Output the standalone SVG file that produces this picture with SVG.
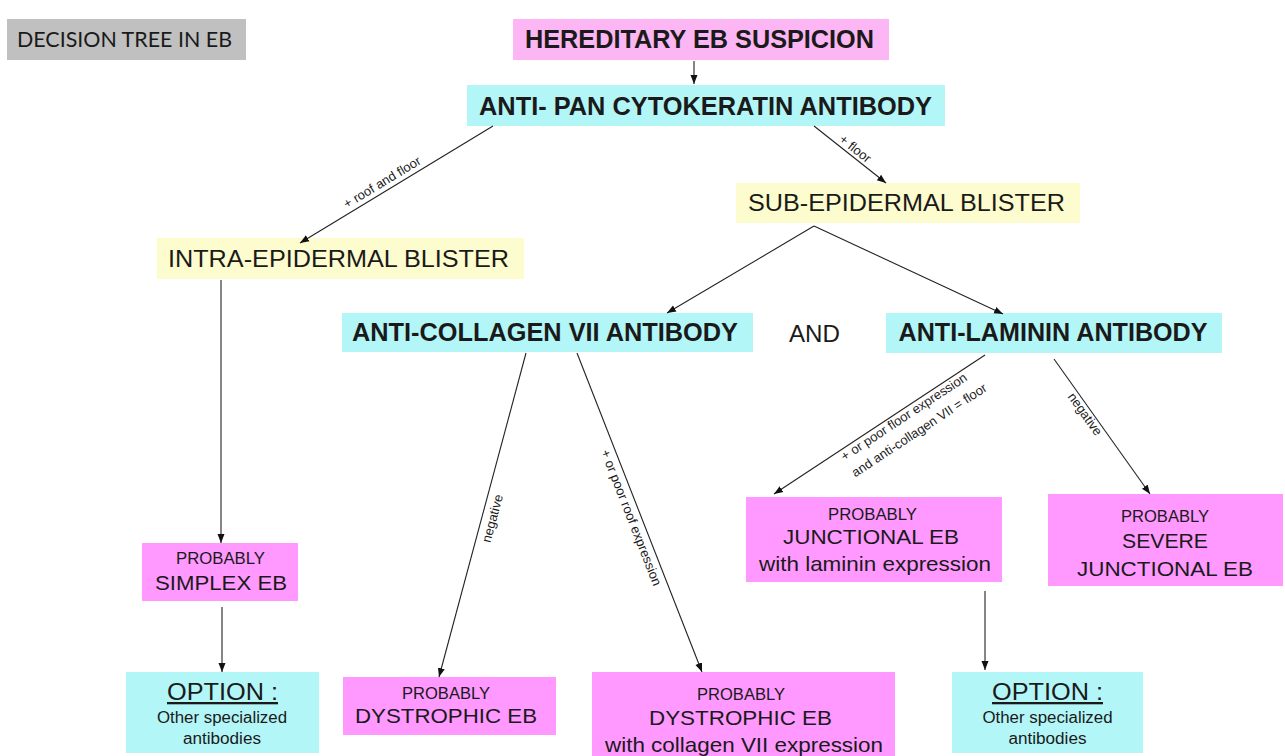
<svg xmlns="http://www.w3.org/2000/svg" width="1285" height="756" viewBox="0 0 1285 756">
<style>
  text { font-family: "Liberation Sans", Arial, sans-serif; fill: #1a1a1a; }
  .ttl { font-family: Lato, "Open Sans", sans-serif; font-size: 21px; }
  .b { font-weight: bold; font-size: 25px; }
  .m { font-size: 24px; }
  .p { font-size: 16px; }
  .r { font-size: 21px; }
  .o { font-size: 23px; text-decoration: underline; }
  .s { font-size: 16px; }
  .lab { font-size: 13px; }
  .grey { fill: #c0c0c0; }
  .pink { fill: #ff99ff; }
  .pinkl { fill: #fdb6f4; }
  .cyan { fill: #b3f6f8; }
  .yel { fill: #fdfcce; }
  .c line { stroke: #222; stroke-width: 1.1; marker-end: url(#ah); }
</style>
<defs>
  <marker id="ah" markerUnits="userSpaceOnUse" markerWidth="9" markerHeight="8" refX="9" refY="4" orient="auto">
    <path d="M0,0.5 L9,4 L0,7.5 z" fill="#111"/>
  </marker>
</defs>
<rect width="1285" height="756" fill="#fff"/>

<g id="title">
  <rect class="grey" x="7" y="19" width="239" height="41"/>
  <text class="ttl" x="17" y="47" textLength="215" lengthAdjust="spacingAndGlyphs">DECISION TREE IN EB</text>
</g>

<g id="hereditary">
  <rect class="pinkl" x="513" y="19" width="376" height="41"/>
  <text class="b" x="699.5" y="48" text-anchor="middle" textLength="349" lengthAdjust="spacingAndGlyphs">HEREDITARY EB SUSPICION</text>
</g>

<g id="antipan">
  <rect class="cyan" x="467" y="85" width="478" height="41"/>
  <text class="b" x="705.5" y="115" text-anchor="middle" textLength="453" lengthAdjust="spacingAndGlyphs">ANTI- PAN CYTOKERATIN ANTIBODY</text>
</g>

<g id="intra">
  <rect class="yel" x="157" y="238" width="367" height="41"/>
  <text class="m" x="338.5" y="267" text-anchor="middle" textLength="341" lengthAdjust="spacingAndGlyphs">INTRA-EPIDERMAL  BLISTER</text>
</g>

<g id="sub">
  <rect class="yel" x="736" y="183" width="344" height="40"/>
  <text class="m" x="906.5" y="211" text-anchor="middle" textLength="317" lengthAdjust="spacingAndGlyphs">SUB-EPIDERMAL  BLISTER</text>
</g>

<g id="collagen">
  <rect class="cyan" x="342" y="313" width="411" height="39"/>
  <text class="b" x="545" y="341" text-anchor="middle" textLength="386" lengthAdjust="spacingAndGlyphs">ANTI-COLLAGEN VII ANTIBODY</text>
</g>

<g id="and">
  <text class="m" x="814.5" y="342" text-anchor="middle" style="font-size:23px" textLength="51" lengthAdjust="spacingAndGlyphs">AND</text>
</g>

<g id="laminin">
  <rect class="cyan" x="886" y="313" width="336" height="40"/>
  <text class="b" x="1053" y="341" text-anchor="middle" textLength="309" lengthAdjust="spacingAndGlyphs">ANTI-LAMININ ANTIBODY</text>
</g>

<g id="simplex">
  <rect class="pink" x="142" y="543" width="156" height="58"/>
  <text class="p" x="220.5" y="564" text-anchor="middle" textLength="89" lengthAdjust="spacingAndGlyphs">PROBABLY</text>
  <text class="r" x="221" y="590" text-anchor="middle" textLength="132" lengthAdjust="spacingAndGlyphs">SIMPLEX EB</text>
</g>

<g id="option1">
  <rect class="cyan" x="126" y="672" width="193" height="81"/>
  <text class="o" x="222.5" y="700" text-anchor="middle" textLength="111" lengthAdjust="spacingAndGlyphs">OPTION :</text>
  <text class="s" x="222" y="723" text-anchor="middle" textLength="130" lengthAdjust="spacingAndGlyphs">Other specialized</text>
  <text class="s" x="222" y="744" text-anchor="middle" textLength="78" lengthAdjust="spacingAndGlyphs">antibodies</text>
</g>

<g id="dystrophic">
  <rect class="pink" x="343" y="677" width="213" height="58"/>
  <text class="p" x="446" y="699" text-anchor="middle" textLength="88" lengthAdjust="spacingAndGlyphs">PROBABLY</text>
  <text class="r" x="446" y="723" text-anchor="middle" textLength="182" lengthAdjust="spacingAndGlyphs">DYSTROPHIC  EB</text>
</g>

<g id="dystrophic-collagen">
  <rect class="pink" x="592" y="672" width="303" height="84"/>
  <text class="p" x="741" y="700" text-anchor="middle" textLength="88" lengthAdjust="spacingAndGlyphs">PROBABLY</text>
  <text class="r" x="740.5" y="725" text-anchor="middle" textLength="183" lengthAdjust="spacingAndGlyphs">DYSTROPHIC  EB</text>
  <text class="r" x="744" y="752" text-anchor="middle" textLength="278" lengthAdjust="spacingAndGlyphs">with collagen VII expression</text>
</g>

<g id="junctional">
  <rect class="pink" x="746" y="497" width="256" height="85"/>
  <text class="p" x="872.5" y="520" text-anchor="middle" textLength="89" lengthAdjust="spacingAndGlyphs">PROBABLY</text>
  <text class="r" x="871" y="544" text-anchor="middle" textLength="176" lengthAdjust="spacingAndGlyphs">JUNCTIONAL  EB</text>
  <text class="r" x="875" y="571" text-anchor="middle" textLength="232" lengthAdjust="spacingAndGlyphs">with laminin  expression</text>
</g>

<g id="severe">
  <rect class="pink" x="1048" y="494" width="235" height="92"/>
  <text class="p" x="1165" y="522" text-anchor="middle" textLength="88" lengthAdjust="spacingAndGlyphs">PROBABLY</text>
  <text class="r" x="1165" y="548" text-anchor="middle" textLength="86" lengthAdjust="spacingAndGlyphs">SEVERE</text>
  <text class="r" x="1165" y="576" text-anchor="middle" textLength="176" lengthAdjust="spacingAndGlyphs">JUNCTIONAL  EB</text>
</g>

<g id="option2">
  <rect class="cyan" x="952" y="672" width="191" height="81"/>
  <text class="o" x="1047.5" y="700" text-anchor="middle" textLength="111" lengthAdjust="spacingAndGlyphs">OPTION :</text>
  <text class="s" x="1047.5" y="723" text-anchor="middle" textLength="130" lengthAdjust="spacingAndGlyphs">Other specialized</text>
  <text class="s" x="1047.5" y="744" text-anchor="middle" textLength="78" lengthAdjust="spacingAndGlyphs">antibodies</text>
</g>

<g id="connectors" class="c">
  <line x1="694" y1="61" x2="694" y2="84"/>
  <line x1="493" y1="126" x2="300" y2="243"/>
  <line x1="814" y1="126" x2="886" y2="183"/>
  <line x1="814" y1="226" x2="667" y2="313"/>
  <line x1="814" y1="226" x2="1003" y2="314"/>
  <line x1="221" y1="280" x2="221" y2="543"/>
  <line x1="526" y1="353" x2="439" y2="677"/>
  <line x1="577" y1="353" x2="702" y2="672"/>
  <line x1="985" y1="355" x2="774" y2="494"/>
  <line x1="1054" y1="359" x2="1150" y2="494"/>
  <line x1="222" y1="607" x2="222" y2="672"/>
  <line x1="985" y1="591" x2="985" y2="670"/>
</g>

<g id="connector-labels">
  <text class="lab" transform="translate(300,243) rotate(-31.2)" x="101.7" y="-5" text-anchor="middle">+ roof  and  floor</text>
  <text class="lab" transform="translate(814,126) rotate(38.4)" x="46.4" y="-3.5" text-anchor="middle">+ floor</text>
  <text class="lab" transform="translate(439,677) rotate(-75)" x="167" y="15" text-anchor="middle">negative</text>
  <text class="lab" transform="translate(577,353) rotate(68.6)" x="173" y="14" text-anchor="middle">+ or poor roof expression</text>
  <g transform="translate(774,494) rotate(-33.4)">
    <text class="lab" x="77" y="11.5">+ or poor floor expression</text>
    <text class="lab" x="77" y="31">and anti-collagen VII = floor</text>
  </g>
  <text class="lab" transform="translate(1054,359) rotate(54.6)" x="63" y="11" text-anchor="middle">negative</text>
</g>
</svg>
